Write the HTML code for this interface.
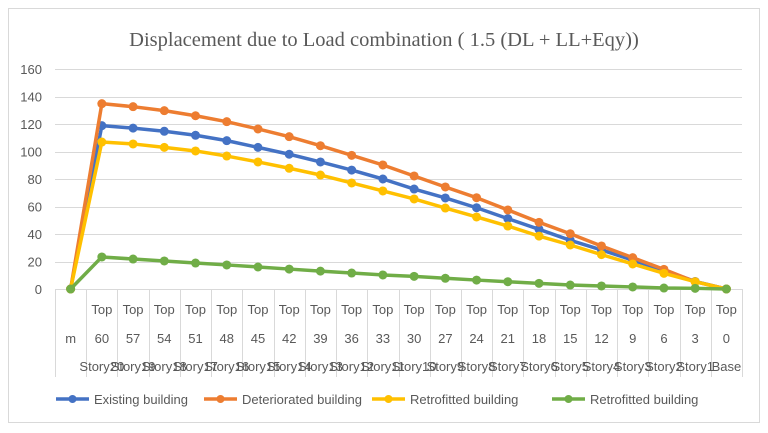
<!DOCTYPE html>
<html><head><meta charset="utf-8"><style>
html,body{margin:0;padding:0;background:#fff;width:768px;height:433px;overflow:hidden}
svg{display:block;font-family:"Liberation Sans",sans-serif}
</style></head><body>
<svg id="chart" width="768" height="433">
<rect x="8.5" y="8.5" width="751" height="414" fill="#fff" stroke="#d9d9d9"/>
<text x="384" y="46" text-anchor="middle" font-family="Liberation Serif, serif" font-size="20.5" fill="#595959">Displacement due to Load combination ( 1.5 (DL + LL+Eqy))</text>
<g id="grid"></g><g id="series"></g><g id="labels"></g><g id="legend"></g>
</svg>
<script>
const topRow=["","Top","Top","Top","Top","Top","Top","Top","Top","Top","Top","Top","Top","Top","Top","Top","Top","Top","Top","Top","Top","Top"];
const midRow=["m","60","57","54","51","48","45","42","39","36","33","30","27","24","21","18","15","12","9","6","3","0"];
const botRow=["","Story20","Story19","Story18","Story17","Story16","Story15","Story14","Story13","Story12","Story11","Story10","Story9","Story8","Story7","Story6","Story5","Story4","Story3","Story2","Story1","Base"];
const existing=[0,118.8,117,114.7,111.8,107.9,103,98,92.4,86.5,80,72.7,66.2,59.1,51.2,43.4,35.4,28.4,21,13.5,5.5,0];
const deteriorated=[0,134.8,132.6,129.7,126,121.7,116.4,110.8,104.2,97.2,90.2,82.2,74.2,66.4,57.5,48.5,40.2,31.3,22.8,14.3,5.3,0];
const retrofitted=[0,106.9,105.5,103,100.4,96.7,92.4,87.8,82.9,77.1,71.3,65.5,58.9,52.4,45.8,38.5,32,25,18.2,11.4,5.3,0];
const retrofitted2=[0,23.3,21.8,20.4,18.9,17.5,16,14.5,13,11.6,10.2,9.2,7.8,6.5,5.3,4.1,2.9,2.2,1.5,0.7,0.5,0];
const yTicks=[0,20,40,60,80,100,120,140,160];
const seriesNames=["Existing building","Deteriorated building","Retrofitted building","Retrofitted building"];
const NS="http://www.w3.org/2000/svg";
const L=55,R=742,Y0=289,Y1=69,YMAX=160;
const n=midRow.length,bw=(R-L)/n;
const xs=i=>L+bw*(i+0.5);
const ys=v=>Y0-(v/YMAX)*(Y0-Y1);
function mk(tag,attrs,parent,text){const e=document.createElementNS(NS,tag);for(const k in attrs)e.setAttribute(k,attrs[k]);if(text!==undefined)e.textContent=text;parent.appendChild(e);return e;}
const grid=document.getElementById('grid'),lab=document.getElementById('labels'),ser=document.getElementById('series'),leg=document.getElementById('legend');
yTicks.forEach(t=>{
 const y=Math.round(ys(t))+0.5;
 const g=mk('line',{x1:L,x2:R,y1:y,y2:y,stroke:'#d9d9d9','stroke-width':1},grid);
 
 
 const tx=mk('text',{x:42,y:ys(t)+5,'text-anchor':'end','font-size':13,fill:'#595959'},lab,String(t));
 
 
});
for(let i=0;i<=n;i++){
 const x=Math.round(L+bw*i)+0.5;
 const s=mk('line',{x1:x,x2:x,y1:Y0,y2:377,stroke:'#d9d9d9','stroke-width':1},grid);
 
 
}
for(let i=0;i<n;i++){
 [[topRow,314],[midRow,343],[botRow,371]].forEach(([arr,y])=>{
  if(!arr[i])return;
  const t=mk('text',{x:xs(i),y:y,'text-anchor':'middle','font-size':13,fill:'#595959'},lab,arr[i]);
  
  
 });
}
const colors=["#4472c4","#ed7d31","#ffc000","#70ad47"];
const data=[existing,deteriorated,retrofitted,retrofitted2];
data.forEach((d,k)=>{
 const g=mk('g',{},ser);
 
 
 const p=mk('polyline',{points:d.map((v,i)=>xs(i)+','+ys(v)).join(' '),fill:'none',stroke:colors[k],'stroke-width':3.5,'stroke-linejoin':'round'},g);
 
 
 d.forEach((v,i)=>{
  const c=mk('circle',{cx:xs(i),cy:ys(v),r:4.5,fill:colors[k]},g);
  
  
 });
});
const lx=[56,204,372,552];
seriesNames.forEach((nm,k)=>{
 const g=mk('g',{},leg);
 
 
 mk('line',{x1:lx[k],x2:lx[k]+33,y1:399,y2:399,stroke:colors[k],'stroke-width':3.5},g);
 mk('circle',{cx:lx[k]+16.5,cy:399,r:4,fill:colors[k]},g);
 mk('text',{x:lx[k]+38,y:404,'font-size':13,fill:'#595959'},g,nm);
});
</script>
</body></html>
